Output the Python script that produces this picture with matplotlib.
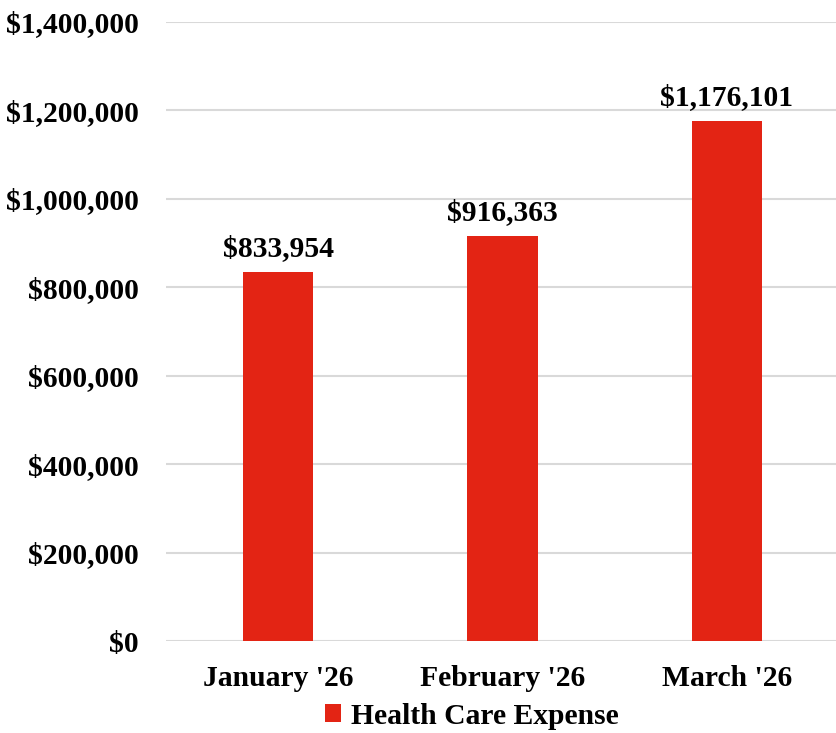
import matplotlib.pyplot as plt
from matplotlib.ticker import FuncFormatter

months = ["January '26", "February '26", "March '26"]
expense = [833954, 916363, 1176101]
series_name = 'Health Care Expense'

plt.rcParams['font.family'] = ['Liberation Serif', 'DejaVu Serif']
plt.rcParams['font.weight'] = 'bold'
fs = 21.3

fig = plt.figure(figsize=(8.37, 7.33), dpi=100)
ax = fig.add_axes([166 / 837, (733 - 641) / 733, (839 - 166) / 837, (641 - 22) / 733])

x = range(len(months))
bars = ax.bar(x, expense, width=0.313, color='#e32414', label=series_name, zorder=3)

for b, v in zip(bars, expense):
    ax.text(b.get_x() + b.get_width() / 2, v + 22000, '${:,.0f}'.format(v),
            ha='center', va='bottom', fontsize=fs, fontweight='bold')

ax.set_ylim(0, 1400000)
ax.set_yticks(range(0, 1400001, 200000))
ax.yaxis.set_major_formatter(FuncFormatter(lambda v, p: '${:,.0f}'.format(v)))
ax.set_xlim(-0.5, 2.5)
ax.set_xticks(list(x))
ax.set_xticklabels(months)
ax.tick_params(axis='both', length=0, labelsize=fs)
ax.tick_params(axis='y', pad=19.5)
ax.tick_params(axis='x', pad=17)
for lab in ax.get_xticklabels() + ax.get_yticklabels():
    lab.set_fontweight('bold')

ax.grid(axis='y', color='#d9d9d9', linewidth=1.5, zorder=0)
for s in ax.spines.values():
    s.set_visible(False)

fig.legend(loc='center', bbox_to_anchor=(472 / 837, 1 - 716 / 733), frameon=False,
           handlelength=0.55, handleheight=0.55, handletextpad=0.35,
           prop={'weight': 'bold', 'size': fs})

fig.savefig('out.png', dpi=100)
